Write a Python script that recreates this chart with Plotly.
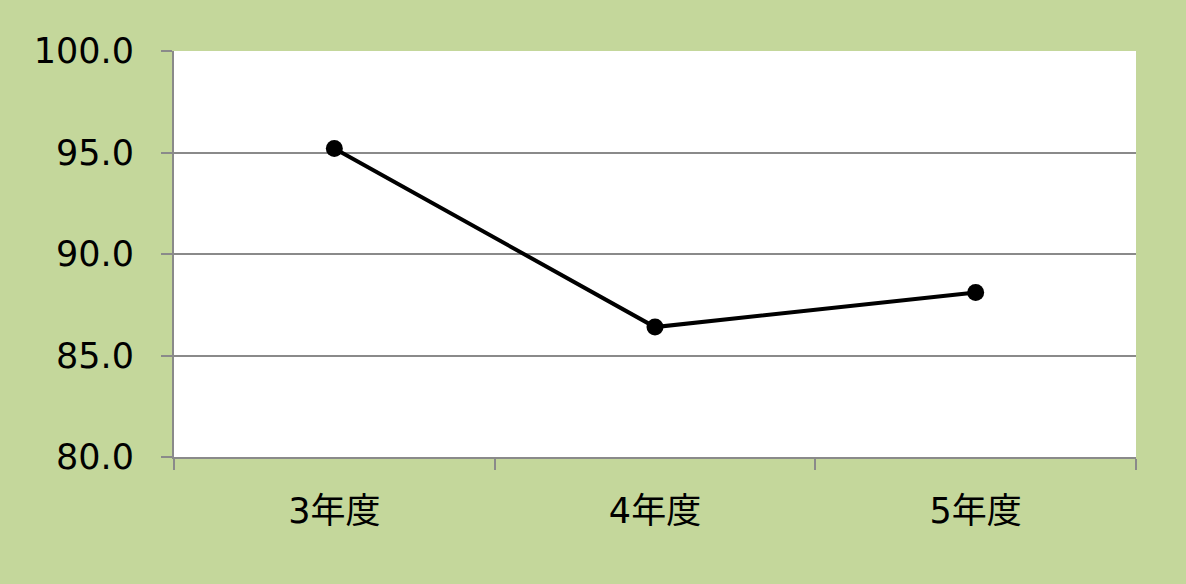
import plotly.graph_objects as go

# 年度別の値
years = ['3年度', '4年度', '5年度']
values = [95.2, 86.4, 88.1]

fnt = 'DejaVu Sans, Noto Sans CJK JP'

fig = go.Figure()
fig.add_trace(go.Scatter(
    x=years, y=values, mode='lines+markers',
    line=dict(color='black', width=4),
    marker=dict(color='black', size=17),
    showlegend=False, cliponaxis=False,
))

fig.update_layout(
    width=1186, height=584,
    paper_bgcolor='#C4D79B', plot_bgcolor='white',
    margin=dict(l=174, r=50, t=51, b=127),
    font=dict(family=fnt, size=35, color='black'),
)
fig.update_xaxes(
    type='category', range=[-0.5, 2.5], tickson='boundaries', ticks='outside',
    ticklen=11, tickwidth=2, tickcolor='#8a8a8a', showline=True,
    linecolor='#8a8a8a', linewidth=2, showgrid=False, ticklabelstandoff=22,
    tickfont=dict(family=fnt, size=35),
)
fig.update_yaxes(
    range=[80, 100], dtick=5, tickformat='.1f', ticks='outside', ticklen=11,
    tickwidth=2, tickcolor='#8a8a8a', showline=True, linecolor='#8a8a8a',
    linewidth=2, gridcolor='#8a8a8a', gridwidth=2, zeroline=False,
    ticklabelstandoff=20, tickfont=dict(family=fnt, size=35),
)

fig.write_html('out.html', config={'displayModeBar': False},
               post_script="document.body.style.margin='0';")
